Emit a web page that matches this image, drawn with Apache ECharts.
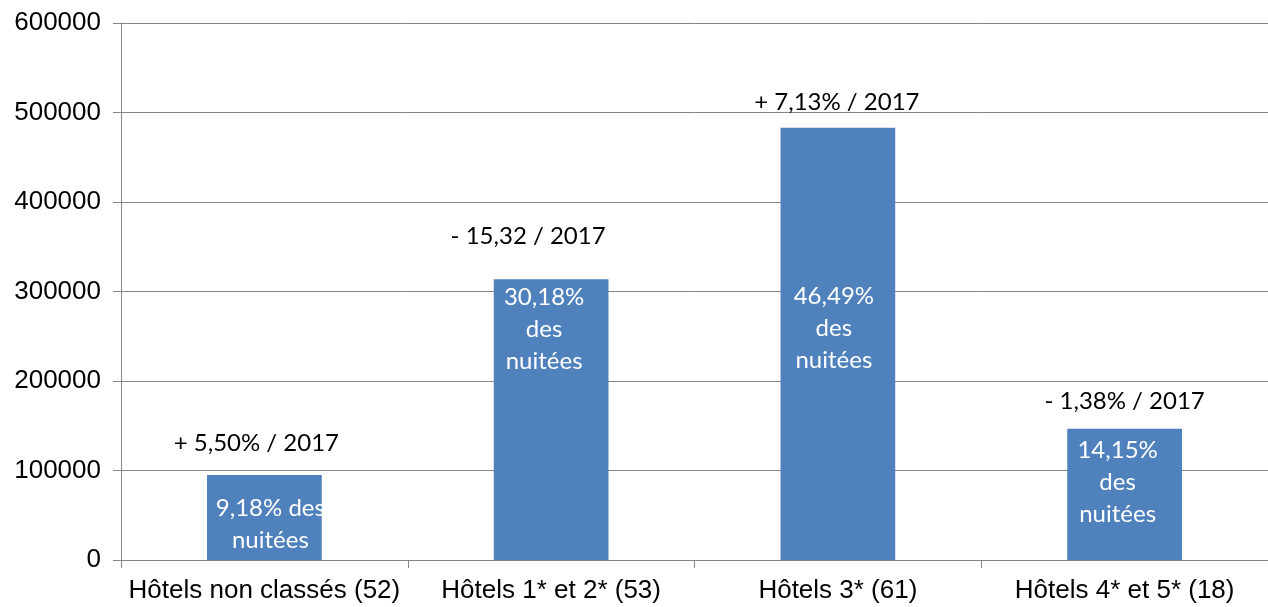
<!DOCTYPE html>
<html>
<head>
<meta charset="utf-8">
<style>
  html, body { margin: 0; padding: 0; background: #fff; }
  #chart { width: 1268px; height: 607px; }
</style>
<script src="https://cdn.jsdelivr.net/npm/echarts@6/dist/echarts.min.js"></script>
</head>
<body>
<div id="chart"></div>
<script>
// ---- data ----
const categories = ['Hôtels non classés (52)', 'Hôtels 1* et 2* (53)', 'Hôtels 3* (61)', 'Hôtels 4* et 5* (18)'];
const nuitees = [95000, 313600, 483000, 146700];
const shareLabels = ['9,18% des\nnuitées', '30,18%\ndes\nnuitées', '46,49%\ndes\nnuitées', '14,15%\ndes\nnuitées'];
const evolutionLabels = ['+ 5,50% / 2017', '- 15,32 / 2017', '+ 7,13% / 2017', '- 1,38% / 2017'];
const yTicks = { min: 0, max: 600000, interval: 100000 };

// ---- layout (label placement, not data) ----
const shareLabelLayout = [
  { distance: 17, offset: [6, 0] },
  { distance: 2, offset: [-7, 0] },
  { distance: 153, offset: [-4, 0] },
  { distance: 6, offset: [-7, 0] }
];
const evolutionLabelLayout = [
  { distance: 19, offset: [-8, 0] },
  { distance: 30, offset: [-23, 0] },
  { distance: 12, offset: [-1, 0] },
  { distance: 14, offset: [0, 0] }
];

const gray = '#868686';
const calibriLike = 'Lato, Carlito, Calibri, "Open Sans", sans-serif';
const arialLike = '"Liberation Sans", Arial, sans-serif';

const chart = echarts.init(document.getElementById('chart'), null, { renderer: 'canvas' });

const barData = nuitees.map((v, i) => ({
  value: v,
  label: {
    formatter: shareLabels[i],
    distance: shareLabelLayout[i].distance,
    offset: shareLabelLayout[i].offset
  }
}));
const topData = nuitees.map((v, i) => ({
  value: v,
  label: {
    formatter: evolutionLabels[i],
    distance: evolutionLabelLayout[i].distance,
    offset: evolutionLabelLayout[i].offset
  }
}));

chart.setOption({
  animation: false,
  backgroundColor: '#ffffff',
  grid: { left: 121, right: 0, top: 23, bottom: 47, containLabel: false },
  xAxis: {
    type: 'category',
    data: categories,
    axisLine: { show: true, lineStyle: { color: gray, width: 1 } },
    axisTick: { show: true, length: 8, interval: 0, lineStyle: { color: gray } },
    axisLabel: {
      interval: 0,
      margin: 18,
      color: '#000',
      fontSize: 26,
      fontFamily: arialLike
    },
    splitLine: { show: false }
  },
  yAxis: {
    type: 'value',
    min: yTicks.min,
    max: yTicks.max,
    interval: yTicks.interval,
    axisLine: { show: true, lineStyle: { color: gray, width: 1 } },
    axisTick: { show: true, length: 8, lineStyle: { color: gray } },
    axisLabel: {
      margin: 20,
      color: '#000',
      fontSize: 26,
      fontFamily: arialLike,
      formatter: (v) => String(v)
    },
    splitLine: { show: true, lineStyle: { color: gray, width: 1 } }
  },
  series: [
    {
      type: 'bar',
      name: 'Nuitées',
      data: barData,
      barWidth: '40%',
      barGap: '-100%',
      itemStyle: { color: '#4F81BD' },
      label: {
        show: true,
        position: 'insideTop',
        color: '#ffffff',
        fontSize: 24,
        lineHeight: 32,
        align: 'center',
        fontFamily: calibriLike
      }
    },
    {
      type: 'bar',
      name: 'Évolution',
      data: topData,
      barWidth: '40%',
      barGap: '-100%',
      itemStyle: { color: 'rgba(0,0,0,0)' },
      silent: true,
      label: {
        show: true,
        position: 'top',
        color: '#000000',
        fontSize: 24,
        lineHeight: 26,
        fontFamily: calibriLike
      }
    }
  ]
});
</script>
</body>
</html>
